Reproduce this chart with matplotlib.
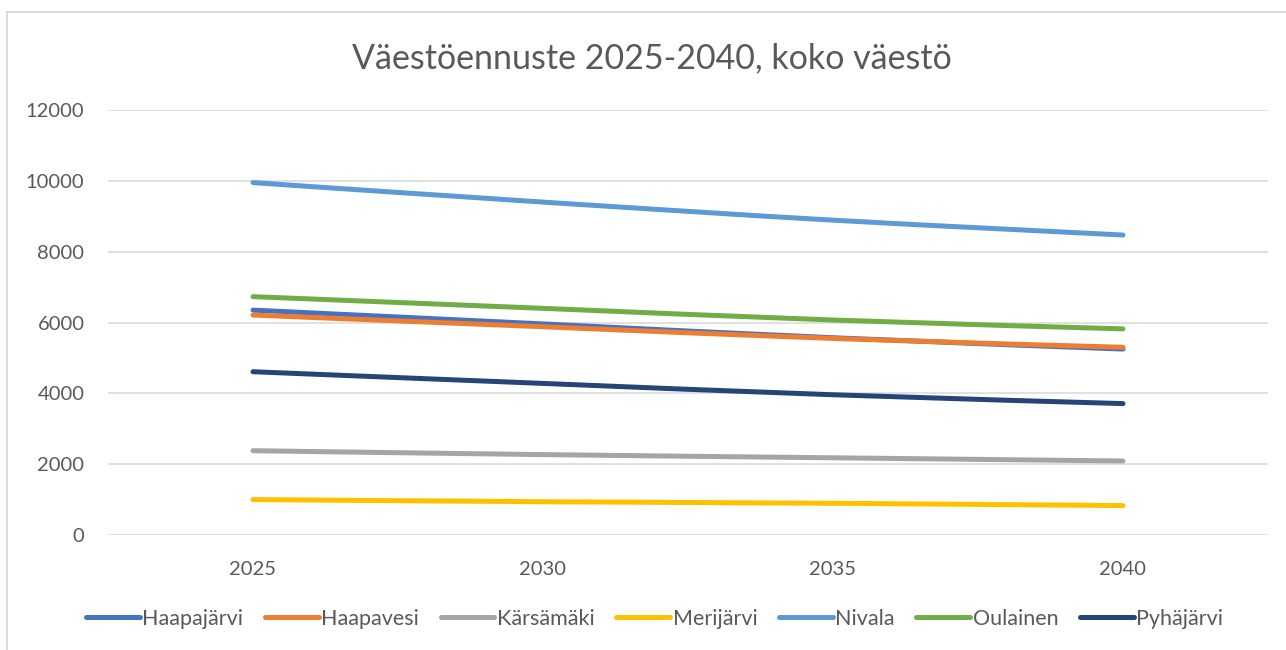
import numpy as np
import matplotlib
matplotlib.use("Agg")
import matplotlib.pyplot as plt
from matplotlib.path import Path
from matplotlib.patches import PathPatch
from matplotlib.lines import Line2D

# population forecast
years = ["2025", "2030", "2035", "2040"]
haapajarvi = [6350, 5960, 5570, 5250]
haapavesi = [6210, 5880, 5550, 5300]
karsamaki = [2380, 2270, 2180, 2090]
merijarvi = [1000, 940, 895, 830]
nivala = [9950, 9400, 8890, 8470]
oulainen = [6730, 6400, 6070, 5820]
pyhajarvi = [4610, 4280, 3960, 3710]

names = ["Haapajärvi", "Haapavesi", "Kärsämäki", "Merijärvi", "Nivala", "Oulainen", "Pyhäjärvi"]
series = [haapajarvi, haapavesi, karsamaki, merijarvi, nivala, oulainen, pyhajarvi]
colors = ["#4472C4", "#ED7D31", "#A5A5A5", "#FFC000", "#5B9BD5", "#70AD47", "#264478"]

FONT = ["Lato", "DejaVu Sans"]
TXT = "#595959"


def smooth_path(x, y):
    # excel style smoothed line: cubic bezier through every point
    x = np.asarray(x, float)
    y = np.asarray(y, float)
    pts = np.column_stack([x, y])
    verts = [pts[0]]
    codes = [Path.MOVETO]
    n = len(pts)
    for i in range(n - 1):
        p0 = pts[max(i - 1, 0)]
        p1 = pts[i]
        p2 = pts[i + 1]
        p3 = pts[min(i + 2, n - 1)]
        c1 = p1 + (p2 - p0) / 6.0
        c2 = p2 - (p3 - p1) / 6.0
        verts += [c1, c2, p2]
        codes += [Path.CURVE4] * 3
    return Path(verts, codes)


fig = plt.figure(figsize=(12.86, 6.5), dpi=100)
ax = fig.add_axes([108 / 1286, 115 / 650, 1160 / 1286, 425 / 650])

xpos = np.arange(len(years))
for vals, name, col in zip(series, names, colors):
    patch = PathPatch(smooth_path(xpos, vals), facecolor="none", edgecolor=col,
                      lw=3.6, capstyle="round", joinstyle="round", zorder=3)
    ax.add_patch(patch)

ax.set_xlim(-0.5, len(years) - 0.5)
ax.set_ylim(0, 12000)
ax.set_yticks(np.arange(0, 12001, 2000))
ax.set_xticks(xpos)
ax.set_xticklabels(years)
ax.grid(axis="y", color="#D9D9D9", lw=1.1)
ax.set_axisbelow(True)
for s in ax.spines.values():
    s.set_visible(False)
ax.tick_params(length=0, labelsize=14.5, colors=TXT)
ax.tick_params(axis="x", pad=19)
ax.tick_params(axis="y", pad=17)
for lab in ax.get_xticklabels() + ax.get_yticklabels():
    lab.set_family(FONT)

fig.text(0.507, 1 - 58 / 650, "Väestöennuste 2025-2040, koko väestö", ha="center", va="center",
         fontsize=24.5, color=TXT, family=FONT)

handles = [Line2D([], [], color=c, lw=3.6, solid_capstyle="round") for c in colors]
fig.legend(handles, names, loc="center", bbox_to_anchor=(0.509, 1 - 619 / 650), ncol=7,
           frameon=False, handlelength=2.5, handletextpad=0.12, columnspacing=1.0,
           prop={"family": FONT, "size": 15.5}, labelcolor=TXT)

# chart area border (only top and left visible in the crop)
fig.add_artist(Line2D([7 / 1286, 7 / 1286], [0, 1 - 11.5 / 650], transform=fig.transFigure,
                      color="#D9D9D9", lw=1.3))
fig.add_artist(Line2D([7 / 1286, 1], [1 - 11.5 / 650, 1 - 11.5 / 650], transform=fig.transFigure,
                      color="#D9D9D9", lw=1.3))

fig.savefig("out.png", dpi=100, facecolor="white")
